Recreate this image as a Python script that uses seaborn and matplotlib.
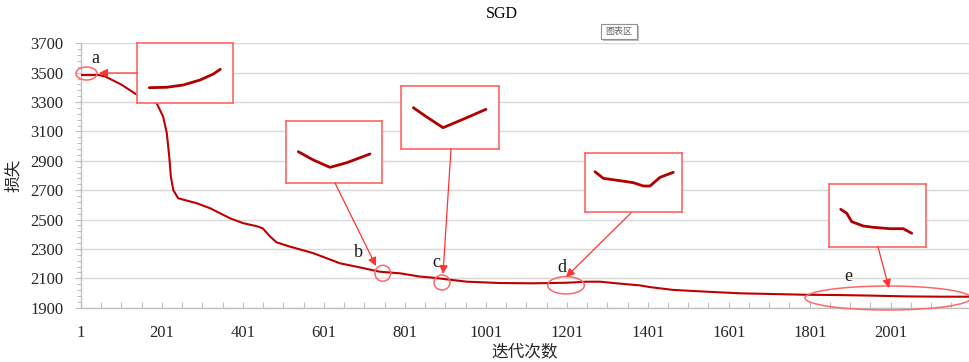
import numpy as np
import pandas as pd
import matplotlib
matplotlib.use("Agg")
import matplotlib.pyplot as plt
from matplotlib.patches import Ellipse, Rectangle
import seaborn as sns

# ---------------- data ----------------
iterations = [1, 45, 60, 100, 139, 188, 204, 213, 219, 223, 229, 241, 287, 320, 369,
              402, 435, 450, 468, 484, 517, 575, 641, 682, 739, 789, 838, 871, 954,
              1036, 1118, 1201, 1250, 1283, 1324, 1381, 1407, 1464, 1546, 1629, 1711,
              1793, 1876, 1958, 2040, 2123, 2196]
loss = [3484, 3484, 3475, 3420, 3350, 3292, 3200, 3087, 2928, 2792, 2701, 2645, 2611,
        2577, 2509, 2475, 2455, 2440, 2385, 2345, 2316, 2271, 2202, 2179, 2145, 2134,
        2112, 2104, 2077, 2068, 2066, 2070, 2077, 2077, 2066, 2052, 2040, 2021, 2009,
        1998, 1993, 1988, 1986, 1982, 1977, 1975, 1975]

xtick_labels = ["1", "201", "401", "601", "801", "1001", "1201", "1401", "1601", "1801", "2001"]
y_ticks = [1900, 2100, 2300, 2500, 2700, 2900, 3100, 3300, 3500, 3700]
marks = ["a", "b", "c", "d", "e"]

# zoomed sketches shown in the callout boxes (box-relative units)
inset_a_x = [0.128, 0.309, 0.482, 0.656, 0.795, 0.868]
inset_a_y = [0.255, 0.262, 0.300, 0.383, 0.483, 0.562]
inset_b_x = [0.128, 0.285, 0.458, 0.632, 0.875]
inset_b_y = [0.505, 0.371, 0.253, 0.327, 0.468]
inset_c_x = [0.129, 0.262, 0.432, 0.636, 0.870]
inset_c_y = [0.654, 0.510, 0.335, 0.469, 0.628]
inset_d_x = [0.103, 0.188, 0.360, 0.497, 0.600, 0.668, 0.771, 0.908]
inset_d_y = [0.681, 0.570, 0.530, 0.497, 0.441, 0.441, 0.587, 0.671]
inset_e_x = [0.124, 0.186, 0.237, 0.357, 0.460, 0.632, 0.769, 0.856]
inset_e_y = [0.596, 0.533, 0.399, 0.330, 0.309, 0.287, 0.287, 0.214]

# ---------------- style ----------------
sns.set_theme(style="white")
plt.rcParams['font.family'] = ['Liberation Serif', 'Noto Sans CJK SC', 'DejaVu Sans']

W, H = 970, 362
def fx(x): return x / W
def fy(y): return 1 - y / H

LINE = "#C00000"
BOX = "#FF6666"
GRID = "#D9D9D9"
AX = "#BFBFBF"
TXT = "#262626"

fig = plt.figure(figsize=(W / 100, H / 100), dpi=100)
ax = fig.add_axes([fx(81), fy(307.7), (970 - 81) / W, (307.7 - 43.3) / H])

df = pd.DataFrame({"iter": iterations, "loss": loss})
sns.lineplot(data=df, x="iter", y="loss", ax=ax, color=LINE, linewidth=1.5,
             estimator=None, sort=False, zorder=3)

ax.set_xlim(1, 2197)
ax.set_ylim(1900, 3700)
xt = list(range(1, 2197, 50))
ax.set_xticks(xt)
lab_map = {int(s): s for s in xtick_labels}
ax.set_xticklabels([lab_map.get(v, "") for v in xt])
ax.set_yticks(y_ticks)
ax.set_yticks(list(range(1900, 3701, 40)), minor=True)
ax.tick_params(axis="x", direction="in", length=4, width=0.8, color=AX, pad=12.5,
               labelsize=12, labelcolor=TXT, bottom=True)
ax.tick_params(axis="y", which="major", direction="out", length=4, width=0.8, color=AX,
               pad=8.5, labelsize=12, labelcolor=TXT, left=True)
ax.tick_params(axis="y", which="minor", direction="out", length=3, width=0.7, color=AX, left=True)
ax.grid(axis="y", which="major", color=GRID, linewidth=1)
ax.grid(axis="x", visible=False)
for s in ["top", "right"]:
    ax.spines[s].set_visible(False)
for s in ["left", "bottom"]:
    ax.spines[s].set_color(AX)
    ax.spines[s].set_linewidth(1)
ax.set_xlabel("")
ax.set_ylabel("")

# titles and labels
fig.text(fx(502), fy(14.5), "SGD", ha="center", va="center", fontsize=11.5, color="#000000")
fig.text(fx(13), fy(175), "损失", rotation=90, ha="center", va="center", fontsize=12,
         color=TXT, family=['Noto Sans CJK SC', 'DejaVu Sans'])
fig.text(fx(525), fy(351.5), "迭代次数", ha="center", va="center", fontsize=12,
         color=TXT, family=['Noto Sans CJK SC', 'DejaVu Sans'])

# "chart area" tag
fig.add_artist(Rectangle((fx(603), fy(41)), 36 / W, 15 / H, transform=fig.transFigure,
                         facecolor="#BBBBBB", edgecolor="none", zorder=4))
fig.add_artist(Rectangle((fx(601), fy(39)), 36 / W, 15 / H, transform=fig.transFigure,
                         facecolor="white", edgecolor="#909090", linewidth=0.8, zorder=5))
fig.text(fx(619), fy(31.5), "图表区", ha="center", va="center", fontsize=6.5, color="#666666",
         family=['Noto Sans CJK SC', 'DejaVu Sans'], zorder=6)

# callout boxes with sketches
boxes = [
    ((137, 43, 233, 103), inset_a_x, inset_a_y),
    ((286, 121, 382, 183), inset_b_x, inset_b_y),
    ((400.7, 86, 498.7, 148.7), inset_c_x, inset_c_y),
    ((585, 152.7, 682.3, 212.3), inset_d_x, inset_d_y),
    ((828.7, 184, 925.7, 246.7), inset_e_x, inset_e_y),
]
for (x0, y0, x1, y1), sx, sy in boxes:
    iax = fig.add_axes([fx(x0), fy(y1), (x1 - x0) / W, (y1 - y0) / H])
    iax.set_facecolor("white")
    sns.lineplot(x=sx, y=sy, ax=iax, color="#B00000", linewidth=2.0, estimator=None, sort=False)
    iax.set_xlim(0, 1)
    iax.set_ylim(0, 1)
    iax.set_xticks([])
    iax.set_yticks([])
    iax.set_xlabel("")
    iax.set_ylabel("")
    for s in iax.spines.values():
        s.set_color(BOX)
        s.set_linewidth(1.2)
        s.set_visible(True)

# ellipses around the regions of interest
ellipses = [(86.5, 73.5, 21, 13), (382.8, 273.3, 15.7, 16), (442, 282.5, 16, 15),
            (566, 285.3, 36.7, 17.3), (888, 298, 166, 24)]
for cx, cy, w, h in ellipses:
    fig.add_artist(Ellipse((fx(cx), fy(cy)), w / W, h / H, transform=fig.transFigure,
                           facecolor="none", edgecolor=BOX, linewidth=1.1, zorder=6))

# arrows
arrows = [((137, 73), (99, 73)), ((335, 183), (376, 266)), ((451, 149), (443, 274)),
          ((631, 213), (566, 277)), ((878, 247), (889, 288))]
for (xa, ya), (xb, yb) in arrows:
    fig.add_artist(matplotlib.patches.FancyArrowPatch(
        (fx(xa), fy(ya)), (fx(xb), fy(yb)), transform=fig.transFigure,
        arrowstyle="-|>,head_length=5,head_width=2.5", mutation_scale=1,
        color="#FF3333", linewidth=0.9, shrinkA=0, shrinkB=0, zorder=7))

# letters
letter_pos = [(95.7, 58.5), (358.3, 252.5), (436.7, 262.5), (561.7, 267.5), (848.3, 276.5)]
for m, (lx, ly) in zip(marks, letter_pos):
    fig.text(fx(lx), fy(ly), m, ha="center", va="center", fontsize=13, color="#1a1a1a")

fig.savefig("out.png", dpi=100)
